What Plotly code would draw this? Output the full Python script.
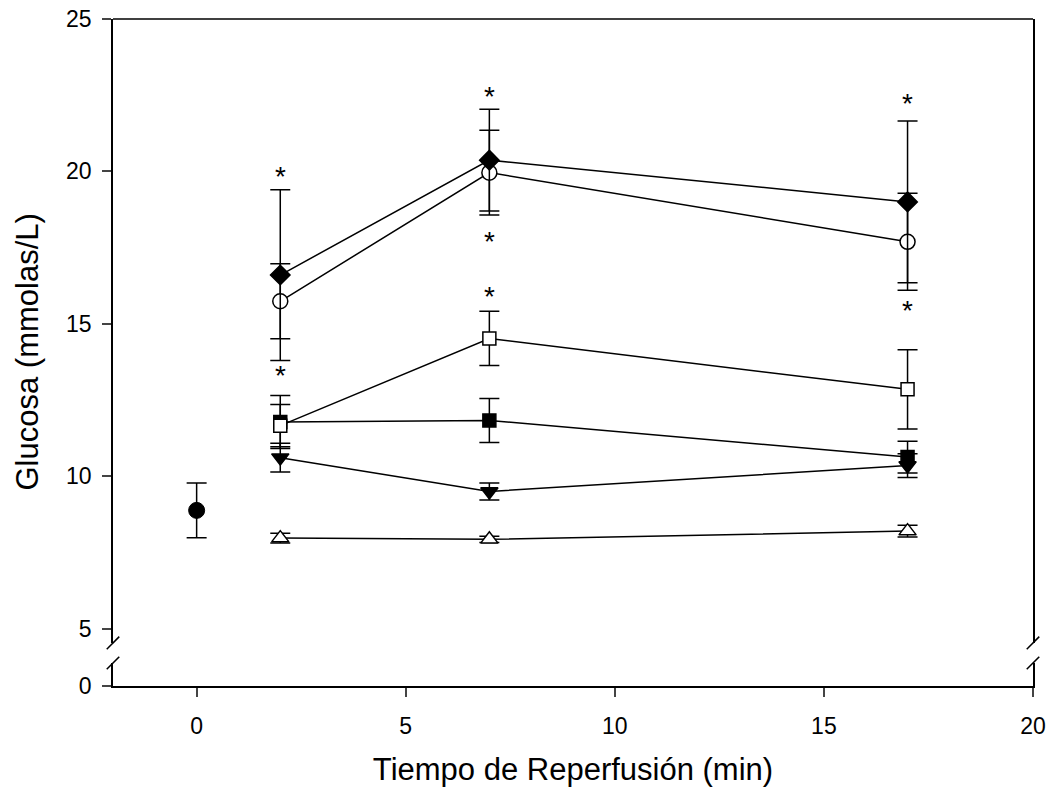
import plotly.graph_objects as go

# ---------------- data ----------------
time_min = [2, 7, 17]

control_x = [0]
control_y = [8.88]
control_err = [0.9]

diamond_y = [16.6, 20.37, 19.0]
diamond_err = [2.8, 1.67, 2.65]

circle_y = [15.74, 19.96, 17.69]
circle_err = [1.23, 1.39, 1.59]

open_sq_y = [11.66, 14.52, 12.85]
open_sq_err = [0.69, 0.89, 1.3]

filled_sq_y = [11.78, 11.83, 10.63]
filled_sq_err = [0.87, 0.72, 0.52]

tri_down_y = [10.61, 9.5, 10.35]
tri_down_err = [0.47, 0.28, 0.39]

tri_up_y = [7.97, 7.93, 8.2]
tri_up_err = [0.16, 0.1, 0.19]

star_x = [2, 2, 7, 7, 7, 17, 17]
star_y = [19.97, 13.44, 22.6, 17.82, 16.04, 22.36, 15.56]

x_ticks = [0, 5, 10, 15, 20]
y_ticks_upper = [5, 10, 15, 20, 25]
y_ticks_lower = [0]

FONT = "Liberation Sans, Arial, sans-serif"
LW = 1.5
TICK_SIZE = 23
TITLE_SIZE = 31

fig = go.Figure()


def add_series(y, err, symbol, fill, size):
    fig.add_trace(go.Scatter(
        x=time_min, y=y, mode="lines+markers",
        xaxis="x", yaxis="y",
        line=dict(color="black", width=LW),
        marker=dict(symbol=symbol, size=size, color=fill,
                    line=dict(color="black", width=LW)),
        error_y=dict(type="data", array=err, visible=True,
                     color="black", thickness=LW, width=10),
        showlegend=False, cliponaxis=False,
    ))


add_series(tri_up_y, tri_up_err, "triangle-up", "white", 15)
add_series(filled_sq_y, filled_sq_err, "square", "black", 13)
add_series(tri_down_y, tri_down_err, "triangle-down", "black", 15)
add_series(open_sq_y, open_sq_err, "square", "white", 13)
add_series(circle_y, circle_err, "circle", "white", 15)
add_series(diamond_y, diamond_err, "diamond", "black", 15)

fig.add_trace(go.Scatter(
    x=control_x, y=control_y, mode="markers",
    xaxis="x", yaxis="y",
    marker=dict(symbol="circle", size=16, color="black",
                line=dict(color="black", width=1)),
    error_y=dict(type="data", array=control_err, visible=True,
                 color="black", thickness=LW, width=10),
    showlegend=False, cliponaxis=False,
))

# empty trace so the lower (broken) axis segment exists
fig.add_trace(go.Scatter(x=[None], y=[None], xaxis="x", yaxis="y2",
                         mode="markers", showlegend=False, hoverinfo="skip"))

for sx, sy in zip(star_x, star_y):
    fig.add_annotation(x=sx, y=sy, xref="x", yref="y", text="*",
                       showarrow=False, yshift=-4,
                       font=dict(family=FONT, size=28, color="black"))

# axis break parameters (paper fractions)
upper_bottom = 0.0645
lower_top = 0.0345

common_axis = dict(
    ticks="outside", ticklen=9, tickwidth=LW, showline=True,
    linecolor="black", linewidth=LW, showgrid=False, zeroline=False,
    tickfont=dict(size=TICK_SIZE), automargin=False,
    ticklabeloverflow="allow",
)

fig.update_layout(
    width=1047, height=791,
    margin=dict(l=113, r=14, t=19, b=105),
    paper_bgcolor="white", plot_bgcolor="white",
    font=dict(family=FONT, size=TICK_SIZE, color="black"),
    xaxis=dict(
        range=[-2, 20], tickvals=x_ticks, anchor="y2", mirror=False,
        title=dict(text="Tiempo de Reperfusión (min)",
                   font=dict(size=TITLE_SIZE), standoff=20),
        ticklabelstandoff=10, **common_axis,
    ),
    yaxis=dict(
        domain=[upper_bottom, 1], range=[4.53, 25], tickvals=y_ticks_upper,
        mirror=True, anchor="x", ticklabelstandoff=6, **common_axis,
    ),
    yaxis2=dict(
        domain=[0, lower_top], range=[0, 0.755], tickvals=y_ticks_lower,
        mirror=True, anchor="x", ticklabelstandoff=6, **common_axis,
    ),
)

# y-axis title centred on the whole plot height
fig.add_annotation(text="Glucosa (mmolas/L)", xref="paper", yref="paper",
                   x=0, y=0.5, xanchor="center", yanchor="middle",
                   xshift=-86, textangle=-90, showarrow=False,
                   font=dict(family=FONT, size=TITLE_SIZE, color="black"))

# frame top line and break marks
fig.add_shape(type="line", xref="paper", yref="paper", x0=0, x1=1, y0=1, y1=1,
              line=dict(color="black", width=LW))
for xc in (0.0, 1.0):
    for yc in (upper_bottom, lower_top):
        fig.add_shape(type="line", xref="paper", yref="paper",
                      x0=xc - 0.0068, x1=xc + 0.0068,
                      y0=yc - 0.0095, y1=yc + 0.0095,
                      line=dict(color="black", width=LW))

fig.write_html("out.html",
               config={"displayModeBar": False},
               post_script="document.body.style.margin='0px';"
                           "document.body.style.overflow='hidden';")
